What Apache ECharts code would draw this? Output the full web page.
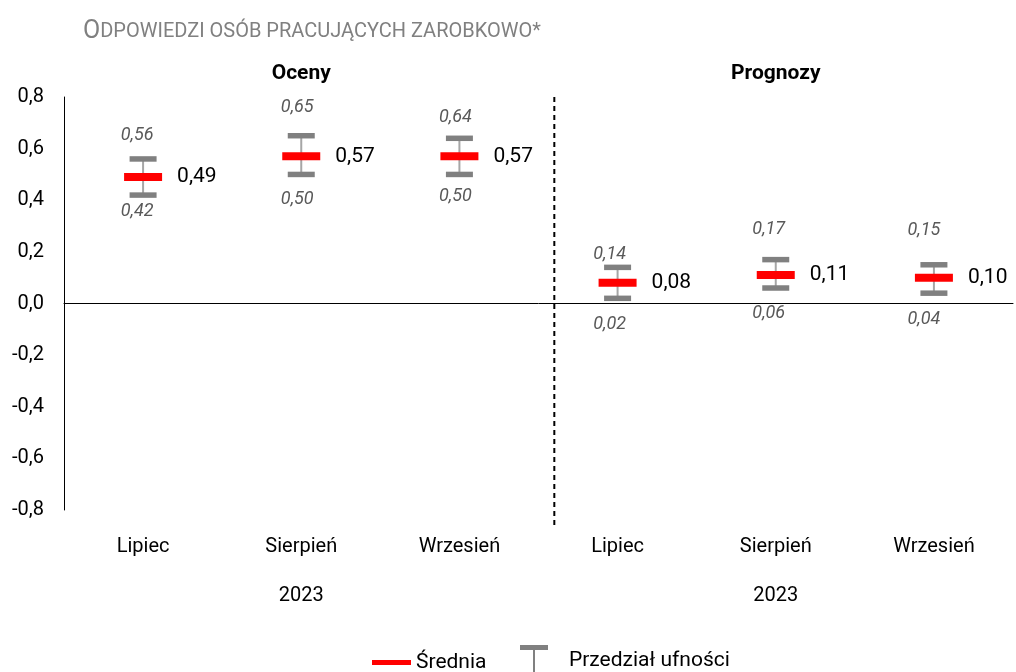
<!DOCTYPE html>
<html>
<head>
<meta charset="utf-8">
<script src="https://cdn.jsdelivr.net/npm/echarts@6/dist/echarts.min.js"></script>
<style>
  html, body { margin: 0; padding: 0; background: #fff; }
  #chart { width: 1016px; height: 672px; }
</style>
</head>
<body>
<div id="chart"></div>
<script>
// dane
var months = ["Lipiec", "Sierpień", "Wrzesień", "Lipiec", "Sierpień", "Wrzesień"];
var years = ["2023", "2023"];
var groups = ["Oceny", "Prognozy"];
var means = [0.49, 0.57, 0.57, 0.08, 0.11, 0.10];
var lower = [0.42, 0.50, 0.50, 0.02, 0.06, 0.04];
var upper = [0.56, 0.65, 0.64, 0.14, 0.17, 0.15];
var yTicks = { min: -0.8, max: 0.8, step: 0.2 };
var separatorAt = 3.1; // between Wrzesień (Oceny) and Lipiec (Prognozy), 0..6 scale

// przesunięcia etykiet przedziału (px), jak w oryginale
var upperLabelDy = [-23, -28, -21, -13, -30, -34];
var lowerLabelDy = [16, 25, 22, 26, 25, 26];
var ciLabelDx = [-6, -4, -4, -8, -7, -10];

var FONT = "Roboto";
var fmt = function (v) { return v.toFixed(2).replace(".", ","); };

var chart = echarts.init(document.getElementById("chart"));

chart.setOption({
  animation: false,
  textStyle: { fontFamily: FONT },
  title: {
    left: 78,
    top: 14,
    text: "{a|O}{b|DPOWIEDZI OSÓB PRACUJĄCYCH ZAROBKOWO*}",
    textStyle: {
      rich: {
        a: { fontFamily: FONT, fontSize: 25, fontWeight: "normal", color: "#808080" },
        b: { fontFamily: FONT, fontSize: 20, fontWeight: "normal", color: "#808080" }
      }
    }
  },
  legend: [
    {
      left: 372,
      top: 652,
      padding: 0,
      itemWidth: 39,
      itemHeight: 5,
      data: [{ name: "Średnia", icon: "rect" }],
      textStyle: { fontFamily: FONT, fontSize: 21, color: "#000" }
    },
    {
      left: 520,
      top: 645,
      padding: 0,
      itemWidth: 28,
      itemHeight: 32,
      data: [{
        name: "Przedział ufności",
        icon: "path://M0,0h28v5h-13v27h-2v-27h-13z"
      }],
      textStyle: { fontFamily: FONT, fontSize: 21, color: "#000", padding: [0, 0, 0, 16] }
    }
  ],
  grid: { left: 64, right: 3, top: 97, bottom: 162 },
  xAxis: [
    {
      type: "category",
      data: months,
      position: "bottom",
      axisLine: { onZero: true, lineStyle: { color: "#000", width: 1 } },
      axisTick: { show: false },
      axisLabel: { show: false },
      splitLine: { show: false }
    },
    {
      type: "category",
      data: months,
      position: "bottom",
      axisLine: { show: false },
      axisTick: { show: false },
      axisLabel: { margin: 27, fontFamily: FONT, fontSize: 20, color: "#000" }
    },
    {
      type: "category",
      data: years,
      position: "bottom",
      axisLine: { show: false },
      axisTick: { show: false },
      axisLabel: { margin: 76, fontFamily: FONT, fontSize: 20, color: "#000" }
    },
    {
      type: "category",
      data: groups,
      position: "top",
      axisLine: { show: false },
      axisTick: { show: false },
      axisLabel: { margin: 13, fontFamily: FONT, fontSize: 21, fontWeight: "bold", color: "#000" }
    },
    {
      type: "value",
      min: 0,
      max: 6,
      show: false
    }
  ],
  yAxis: {
    type: "value",
    min: yTicks.min,
    max: yTicks.max,
    interval: yTicks.step,
    axisLine: { show: true, lineStyle: { color: "#000", width: 1 } },
    axisTick: { show: false },
    splitLine: { show: false },
    axisLabel: {
      margin: 20,
      fontFamily: FONT,
      fontSize: 20,
      color: "#000",
      formatter: function (v) { return v.toFixed(1).replace(".", ","); }
    }
  },
  series: [
    {
      name: "Przedział ufności",
      type: "custom",
      xAxisIndex: 0,
      itemStyle: { color: "#808080" },
      data: months.map(function (m, i) { return [i, lower[i], upper[i]]; }),
      renderItem: function (params, api) {
        var i = params.dataIndex;
        var lo = api.coord([api.value(0), api.value(1)]);
        var hi = api.coord([api.value(0), api.value(2)]);
        var capW = 27, capH = 5.5;
        return {
          type: "group",
          children: [
            {
              type: "line",
              shape: { x1: lo[0], y1: lo[1], x2: hi[0], y2: hi[1] },
              style: { stroke: "#a6a6a6", lineWidth: 2 }
            },
            {
              type: "rect",
              shape: { x: hi[0] - capW / 2, y: hi[1] - capH / 2, width: capW, height: capH },
              style: { fill: "#808080" }
            },
            {
              type: "rect",
              shape: { x: lo[0] - capW / 2, y: lo[1] - capH / 2, width: capW, height: capH },
              style: { fill: "#808080" }
            },
            {
              type: "text",
              style: {
                text: fmt(api.value(2)), x: hi[0] + ciLabelDx[i], y: hi[1] + upperLabelDy[i],
                align: "center", verticalAlign: "middle",
                font: "italic 18px " + FONT, fill: "#595959"
              }
            },
            {
              type: "text",
              style: {
                text: fmt(api.value(1)), x: lo[0] + ciLabelDx[i], y: lo[1] + lowerLabelDy[i],
                align: "center", verticalAlign: "middle",
                font: "italic 18px " + FONT, fill: "#595959"
              }
            }
          ]
        };
      }
    },
    {
      name: "Średnia",
      type: "scatter",
      xAxisIndex: 0,
      symbol: "rect",
      symbolSize: [38, 8],
      itemStyle: { color: "#ff0000", opacity: 1 },
      z: 5,
      label: {
        show: true,
        position: "right",
        distance: 15,
        fontFamily: FONT,
        fontSize: 21,
        color: "#000",
        formatter: function (p) { return fmt(p.value[1]); }
      },
      data: months.map(function (m, i) { return [i, means[i]]; })
    },
    {
      name: "separator",
      type: "line",
      xAxisIndex: 4,
      clip: false,
      silent: true,
      symbol: "none",
      lineStyle: { color: "#000", type: [5, 4], width: 2 },
      data: [[separatorAt, yTicks.max], [separatorAt, -0.865]]
    }
  ]
});
</script>
</body>
</html>
